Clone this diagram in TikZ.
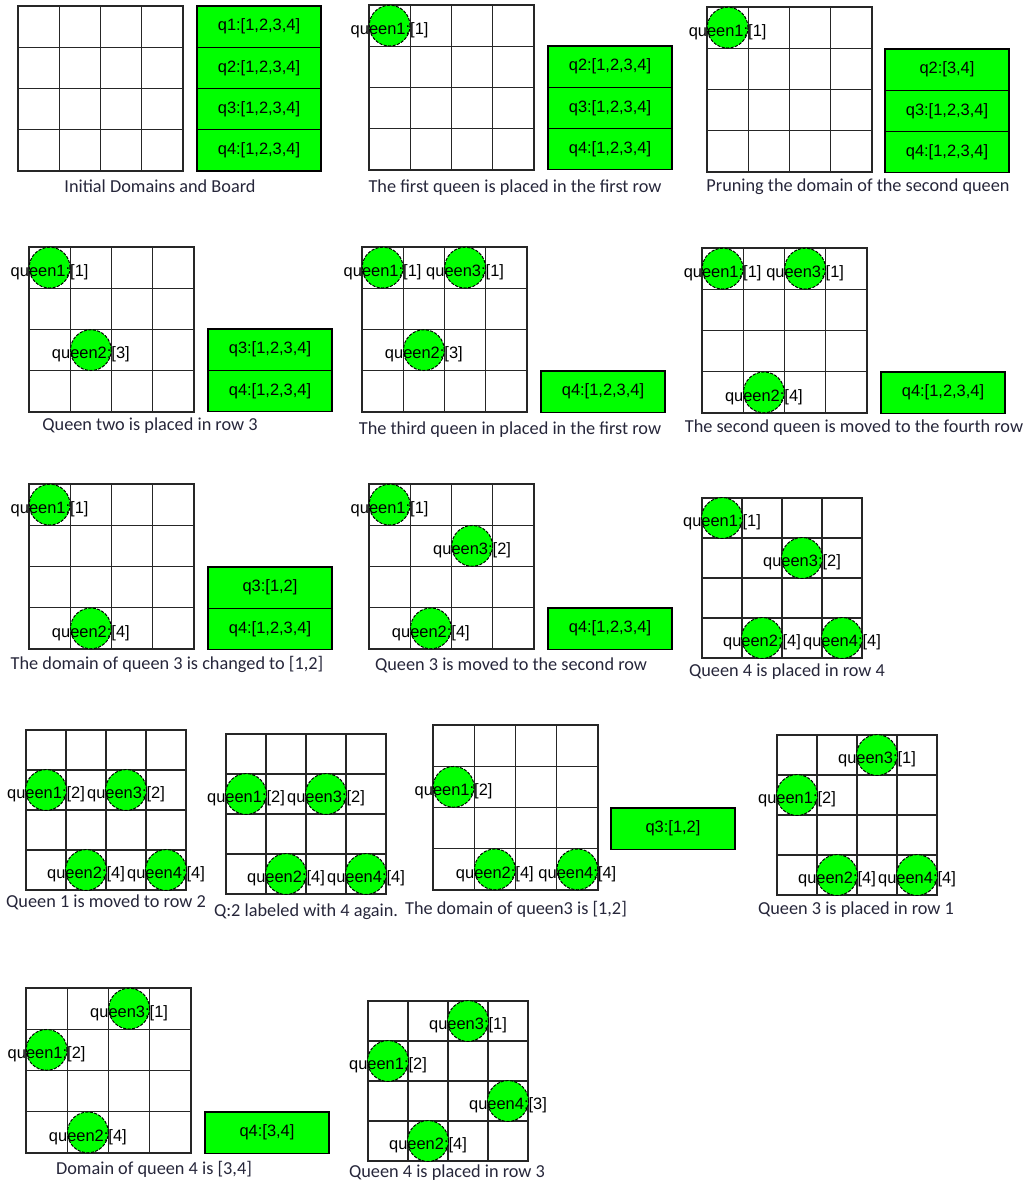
\documentclass[tikz,border=0pt]{standalone}
\usepackage{fontspec}
\setmainfont{Liberation Sans}
\newfontfamily\capfont{Carlito}
\usepackage{xcolor}
\usetikzlibrary{positioning}

\definecolor{qgreen}{RGB}{0,255,0}
\definecolor{capcol}{RGB}{38,38,58}

% 4x4 board: left, top, cell size
\newcommand{\qboard}[3]{%
  \foreach \k in {0,...,4} {
    \draw[gridline] ({#1+\k*#3},#2) -- ({#1+\k*#3},{#2+4*#3});
    \draw[gridline] (#1,{#2+\k*#3}) -- ({#1+4*#3},{#2+\k*#3});
  }}
% queen: name, board left, board top, cell, column, row, text
\newcommand{\qpiece}[7]{%
  \node[queen] (#1) at ({#2+(#5-0.5)*#4},{#3+(#6-0.5)*#4}) {};
  \node[qlabel] (#1t) at (#1.center) {#7};}

\begin{document}
\begin{tikzpicture}[
  x=0.025cm, y=-0.025cm,
  gridline/.style={line width=1pt, draw=black!85, line cap=rect},
  queen/.style={circle, fill=qgreen, draw=black, line width=0.7pt,
    dash pattern=on 2.2pt off 1pt, minimum size=1.02cm, inner sep=0pt},
  qlabel/.style={anchor=base, yshift=-6.2pt, inner sep=0pt,
    font=\fontsize{11.7}{14}\selectfont},
  dom/.style={draw=black, line width=1pt, fill=qgreen, minimum width=3.1cm,
    minimum height=1.03cm, inner sep=0pt, outer sep=0pt,
    font=\fontsize{11.7}{14}\selectfont},
  captxt/.style={text=capcol, inner sep=0pt, font=\capfont\fontsize{13}{16}\selectfont},
]
\useasboundingbox (0,0) rectangle (1027,1184);

% Row 1: start, first queen, pruning
\qboard{18}{6}{41.25}
\node[dom, anchor=north west] (d1q1) at (197,6) {q1:[1,2,3,4]};
\node[dom, below=0pt of d1q1] (d1q2) {q2:[1,2,3,4]};
\node[dom, below=0pt of d1q2] (d1q3) {q3:[1,2,3,4]};
\node[dom, below=0pt of d1q3] (d1q4) {q4:[1,2,3,4]};
\node[captxt] (cap1) at (160,186) {Initial Domains and Board};

\qboard{369}{5}{41.25}
\qpiece{p2q1}{369}{5}{41.25}{1}{1}{queen1:[1]}
\node[dom, anchor=north west] (d2q2) at (548,46) {q2:[1,2,3,4]};
\node[dom, below=0pt of d2q2] (d2q3) {q3:[1,2,3,4]};
\node[dom, below=0pt of d2q3] (d2q4) {q4:[1,2,3,4]};
\node[captxt] (cap2) at (515,188) {The first queen is placed in the first row};

\qboard{707}{7}{41.25}
\qpiece{p3q1}{707}{7}{41.25}{1}{1}{queen1:[1]}
\node[dom, anchor=north west] (d3q2) at (885,49) {q2:[3,4]};
\node[dom, below=0pt of d3q2] (d3q3) {q3:[1,2,3,4]};
\node[dom, below=0pt of d3q3] (d3q4) {q4:[1,2,3,4]};
\node[captxt] (cap3) at (858,187) {Pruning the domain of the second queen};

% Row 2: queen two, queen three, queen two moved
\qboard{29}{247}{41.25}
\qpiece{p4q1}{29}{247}{41.25}{1}{1}{queen1:[1]}
\qpiece{p4q2}{29}{247}{41.25}{2}{3}{queen2:[3]}
\node[dom, anchor=north west] (d4q3) at (208,329) {q3:[1,2,3,4]};
\node[dom, below=0pt of d4q3] (d4q4) {q4:[1,2,3,4]};
\node[captxt] (cap4) at (150,426) {Queen two is placed in row 3};

\qboard{362}{247}{41.25}
\qpiece{p5q1}{362}{247}{41.25}{1}{1}{queen1:[1]}
\qpiece{p5q3}{362}{247}{41.25}{3}{1}{queen3:[1]}
\qpiece{p5q2}{362}{247}{41.25}{2}{3}{queen2:[3]}
\node[dom, anchor=north west] (d5q4) at (541,371) {q4:[1,2,3,4]};
\node[captxt] (cap5) at (510,430) {The third queen in placed in the first row};

\qboard{702}{248}{41.25}
\qpiece{p6q1}{702}{248}{41.25}{1}{1}{queen1:[1]}
\qpiece{p6q3}{702}{248}{41.25}{3}{1}{queen3:[1]}
\qpiece{p6q2}{702}{248}{41.25}{2}{4}{queen2:[4]}
\node[dom, anchor=north west] (d6q4) at (881,372) {q4:[1,2,3,4]};
\node[captxt] (cap6) at (854,428) {The second queen is moved to the fourth row};

% Row 3: domain of queen 3, queen 3 moved, queen 4 placed
\qboard{29}{484}{41.25}
\qpiece{p7q1}{29}{484}{41.25}{1}{1}{queen1:[1]}
\qpiece{p7q2}{29}{484}{41.25}{2}{4}{queen2:[4]}
\node[dom, anchor=north west] (d7q3) at (208,567) {q3:[1,2]};
\node[dom, below=0pt of d7q3] (d7q4) {q4:[1,2,3,4]};
\node[captxt] (cap7) at (167,664) {The domain of queen 3 is changed to [1,2]};

\qboard{369}{484}{41.25}
\qpiece{p8q1}{369}{484}{41.25}{1}{1}{queen1:[1]}
\qpiece{p8q3}{369}{484}{41.25}{3}{2}{queen3:[2]}
\qpiece{p8q2}{369}{484}{41.25}{2}{4}{queen2:[4]}
\node[dom, anchor=north west] (d8q4) at (548,608) {q4:[1,2,3,4]};
\node[captxt] (cap8) at (511,665) {Queen 3 is moved to the second row};

\qboard{702}{498}{40}
\qpiece{p9q1}{702}{498}{40}{1}{1}{queen1:[1]}
\qpiece{p9q3}{702}{498}{40}{3}{2}{queen3:[2]}
\qpiece{p9q2}{702}{498}{40}{2}{4}{queen2:[4]}
\qpiece{p9q4}{702}{498}{40}{4}{4}{queen4:[4]}
\node[captxt] (cap9) at (787,672) {Queen 4 is placed in row 4};

% Row 4: queen 1 moved, relabel, domain of queen3, queen 3 placed
\qboard{26}{730}{40}
\qpiece{p10q1}{26}{730}{40}{1}{2}{queen1:[2]}
\qpiece{p10q3}{26}{730}{40}{3}{2}{queen3:[2]}
\qpiece{p10q2}{26}{730}{40}{2}{4}{queen2:[4]}
\qpiece{p10q4}{26}{730}{40}{4}{4}{queen4:[4]}
\node[captxt] (cap10) at (106,902) {Queen 1 is moved to row 2};

\qboard{226}{734}{40}
\qpiece{p11q1}{226}{734}{40}{1}{2}{queen1:[2]}
\qpiece{p11q3}{226}{734}{40}{3}{2}{queen3:[2]}
\qpiece{p11q2}{226}{734}{40}{2}{4}{queen2:[4]}
\qpiece{p11q4}{226}{734}{40}{4}{4}{queen4:[4]}
\node[captxt] (cap11) at (306,912) {Q:2 labeled with 4 again.};

\qboard{433}{725}{41.25}
\qpiece{p12q1}{433}{725}{41.25}{1}{2}{queen1:[2]}
\qpiece{p12q2}{433}{725}{41.25}{2}{4}{queen2:[4]}
\qpiece{p12q4}{433}{725}{41.25}{4}{4}{queen4:[4]}
\node[dom, anchor=north west] (d12q3) at (611,808) {q3:[1,2]};
\node[captxt] (cap12) at (516,909) {The domain of queen3 is [1,2]};

\qboard{777}{735}{40}
\qpiece{p13q3}{777}{735}{40}{3}{1}{queen3:[1]}
\qpiece{p13q1}{777}{735}{40}{1}{2}{queen1:[2]}
\qpiece{p13q2}{777}{735}{40}{2}{4}{queen2:[4]}
\qpiece{p13q4}{777}{735}{40}{4}{4}{queen4:[4]}
\node[captxt] (cap13) at (856,910) {Queen 3 is placed in row 1};

% Row 5: domain of queen 4, solution
\qboard{26}{988}{41.25}
\qpiece{p14q3}{26}{988}{41.25}{3}{1}{queen3:[1]}
\qpiece{p14q1}{26}{988}{41.25}{1}{2}{queen1:[2]}
\qpiece{p14q2}{26}{988}{41.25}{2}{4}{queen2:[4]}
\node[dom, anchor=north west] (d14q4) at (205,1112) {q4:[3,4]};
\node[captxt] (cap14) at (154,1169) {Domain of queen 4 is [3,4]};

\qboard{368}{1001}{40}
\qpiece{p15q3}{368}{1001}{40}{3}{1}{queen3:[1]}
\qpiece{p15q1}{368}{1001}{40}{1}{2}{queen1:[2]}
\qpiece{p15q4}{368}{1001}{40}{4}{3}{queen4:[3]}
\qpiece{p15q2}{368}{1001}{40}{2}{4}{queen2:[4]}
\node[captxt] (cap15) at (447,1173) {Queen 4 is placed in row 3};

\end{tikzpicture}
\end{document}
